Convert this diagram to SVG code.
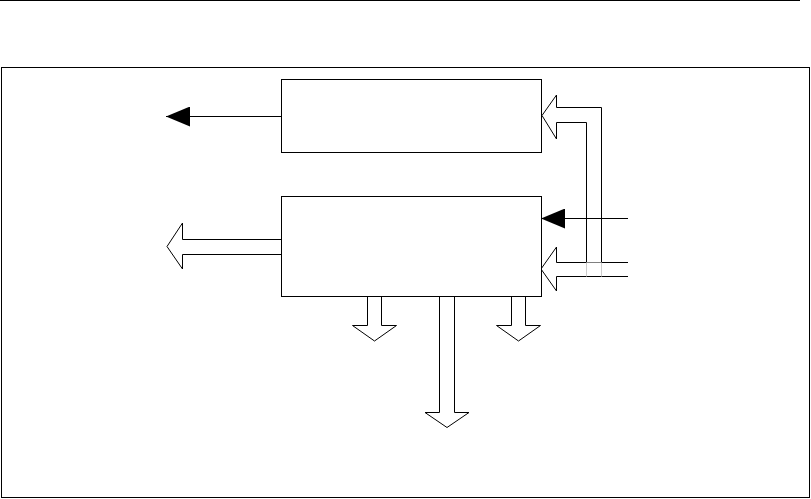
<svg xmlns="http://www.w3.org/2000/svg" width="811" height="499" viewBox="0 0 811 499">
<style>
.ln{fill:none;stroke:#000;stroke-width:1}
.lt{fill:none;stroke:#ccc;stroke-width:1}
.hollow{fill:#fff;stroke:#000;stroke-width:1;stroke-linejoin:miter}
.box{fill:#fff;stroke:#000;stroke-width:1}
</style>
<defs>
<marker id="tri" markerWidth="24" markerHeight="20" refX="24" refY="10" orient="auto" markerUnits="userSpaceOnUse">
<path d="M0,0 L24,10 L0,20 Z" fill="#000"/>
</marker>
</defs>
<rect width="811" height="499" fill="#fff"/>
<line x1="0" y1="0.5" x2="800" y2="0.5" class="ln"/>
<rect x="1.5" y="67.5" width="808" height="430" class="box"/>
<g id="connectors">
<line x1="281" y1="116.5" x2="166" y2="116.5" class="ln" marker-end="url(#tri)"/>
<path d="M281,239.5 L182.5,239.5 L182.5,223 L167,246.5 L182.5,269 L182.5,254.5 L281,254.5" class="hollow"/>
<path d="M367.5,296 L367.5,325.5 L352.5,325.5 L374.5,341 L396.5,325.5 L381.5,325.5 L381.5,296" class="hollow"/>
<path d="M439.5,296 L439.5,412.5 L425,412.5 L447,427.5 L469,412.5 L454.5,412.5 L454.5,296" class="hollow"/>
<path d="M511.5,296 L511.5,325.5 L496.5,325.5 L518.5,341 L540.5,325.5 L525.5,325.5 L525.5,296" class="hollow"/>
<path d="M628,262.5 L556.5,262.5 L556.5,247 L541,269 L556.5,291 L556.5,276.5 L628,276.5" class="hollow"/>
<path d="M601.5,262.5 L601.5,107.5 L556.5,107.5 L556.5,95 L542,115.5 L556.5,139 L556.5,122.5 L586.5,122.5 L586.5,262.5" class="hollow" stroke="#555"/>
<line x1="586.5" y1="262.5" x2="586.5" y2="276.5" class="lt"/>
<line x1="601.5" y1="262.5" x2="601.5" y2="276.5" class="lt"/>
<line x1="628" y1="218.5" x2="541" y2="218.5" class="ln" marker-end="url(#tri)"/>
</g>
<g id="box1">
<rect x="281.5" y="79.5" width="260" height="73" class="box"/>
</g>
<g id="box2">
<rect x="281.5" y="196.5" width="260" height="100" class="box"/>
</g>
</svg>
